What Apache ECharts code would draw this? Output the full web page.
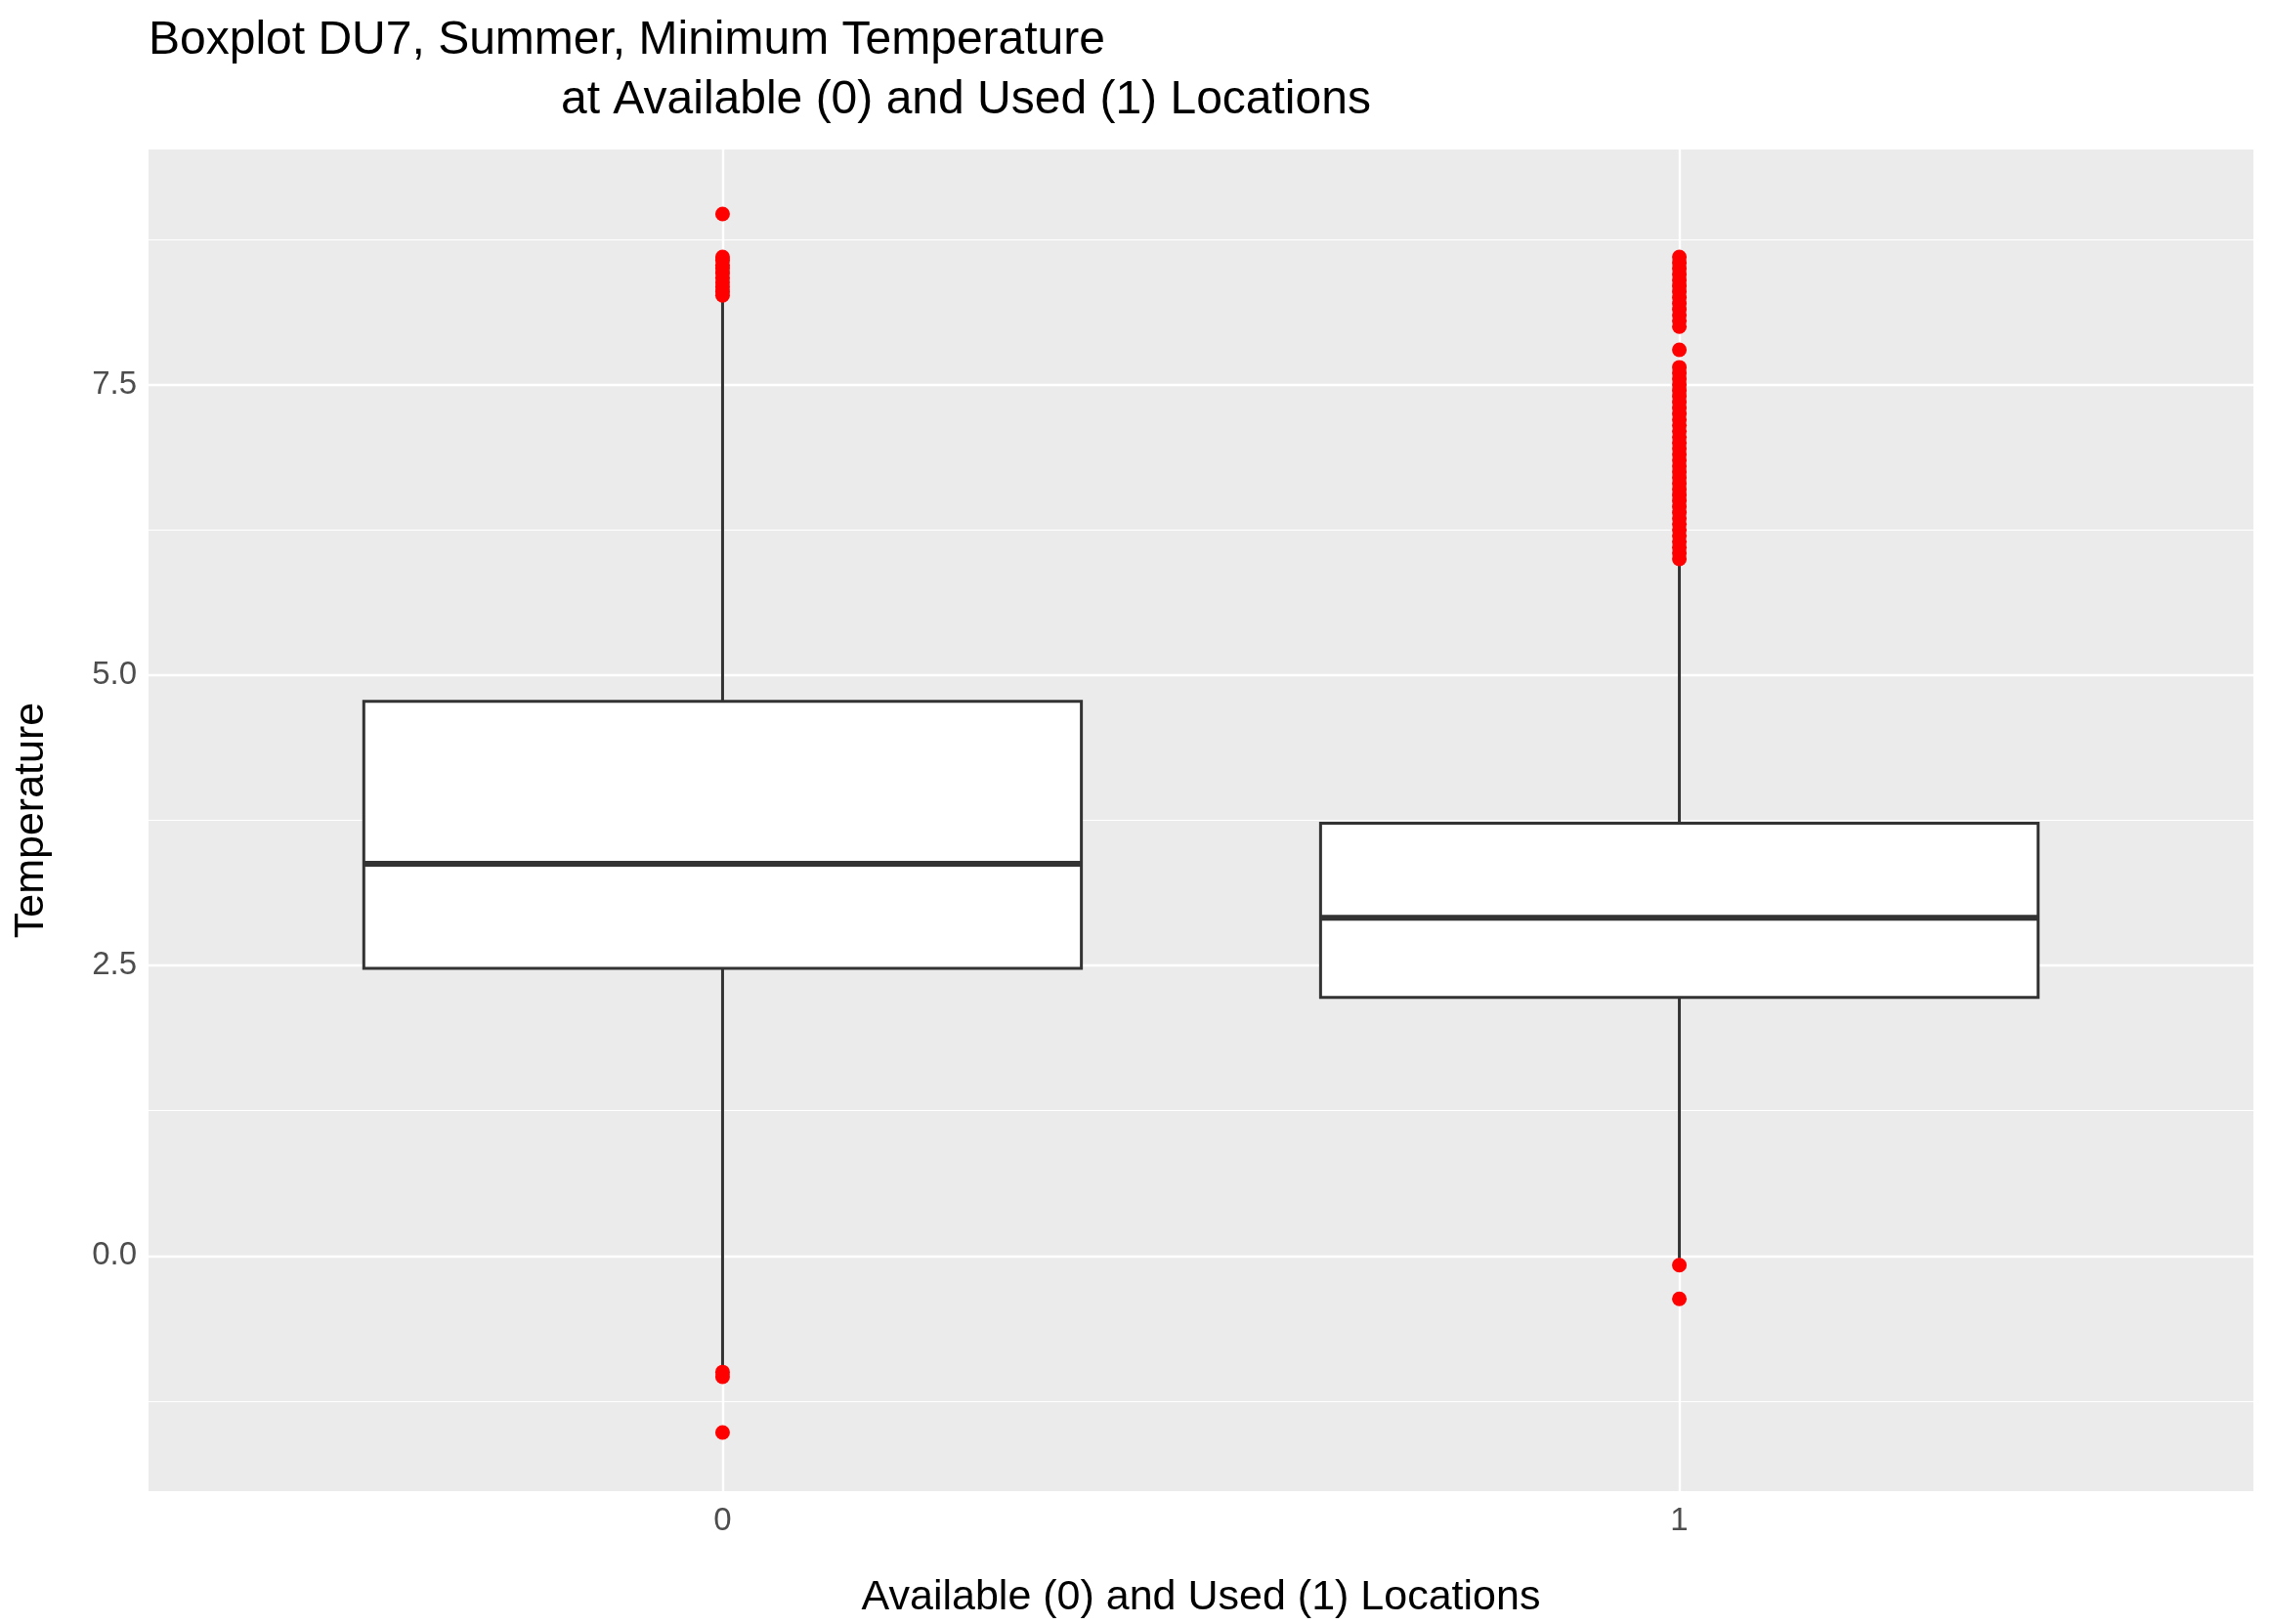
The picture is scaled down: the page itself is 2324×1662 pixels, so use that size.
<!DOCTYPE html>
<html><head><meta charset="utf-8">
<script src="https://cdn.jsdelivr.net/npm/echarts@6/dist/echarts.min.js"></script>
<style>html,body{margin:0;padding:0;background:#fff}#c{width:2324px;height:1662px}</style>
</head><body><div id="c"></div>
<script>
const categories = [0, 1];
// [x, lowerWhisker, Q1, median, Q3, upperWhisker]
const boxStats = [
  [0, -0.98, 2.475, 3.375, 4.775, 8.25],
  [1, -0.02, 2.225, 2.91, 3.725, 6.0]
];
const outliers0 = [8.97, 8.6, 8.57, 8.53, 8.5, 8.46, 8.42, 8.38, 8.34, 8.3, 8.27, -1.0, -1.04, -1.52];
const outliers1 = [6.0, 6.05, 6.1, 6.15, 6.2, 6.25, 6.3, 6.35, 6.4, 6.45, 6.5, 6.55, 6.6, 6.65, 6.7, 6.75, 6.8, 6.85, 6.9, 6.95, 7.0, 7.05, 7.1, 7.15, 7.2, 7.25, 7.3, 7.35, 7.4, 7.45, 7.5, 7.55, 7.6, 7.65, 7.8, 8.0, 8.05, 8.1, 8.15, 8.2, 8.25, 8.3, 8.35, 8.4, 8.45, 8.5, 8.55, 8.6, -0.08, -0.37];
const majorY = [0, 2.5, 5, 7.5];
const minorY = [-1.25, 1.25, 3.75, 6.25, 8.75];

const outlierData = outliers0.map(v => [0, v]).concat(outliers1.map(v => [1, v]));
const gridLines = minorY.map(v => ({yAxis: v, lineStyle: {width: 1.2}}))
  .concat(majorY.map(v => ({yAxis: v, lineStyle: {width: 2.4}})))
  .concat(categories.map(v => ({xAxis: v, lineStyle: {width: 2.4}})));

const chart = echarts.init(document.getElementById('c'));
chart.setOption({
  animation: false,
  grid: {left: 152, right: 18, top: 153, bottom: 132, show: true, backgroundColor: '#EBEBEB', borderWidth: 0},
  graphic: [
    {type: 'text', left: 152, top: 18, style: {text: 'Boxplot DU7, Summer, Minimum Temperature', font: '48px "Liberation Sans", Arial', fill: '#000'}},
    {type: 'text', left: 574, top: 79, style: {text: 'at Available (0) and Used (1) Locations', font: '48px "Liberation Sans", Arial', fill: '#000'}}
  ],
  xAxis: {
    type: 'value', min: -0.6, max: 1.6,
    name: 'Available (0) and Used (1) Locations', nameLocation: 'middle', nameGap: 88,
    nameTextStyle: {fontSize: 43, color: '#000', fontFamily: 'Liberation Sans'},
    axisLine: {show: false}, splitLine: {show: false},
    axisTick: {show: true, length: 7, lineStyle: {color: '#333', width: 2}, customValues: categories},
    axisLabel: {customValues: categories, fontSize: 33, color: '#4d4d4d', margin: 14, fontFamily: 'Liberation Sans'}
  },
  yAxis: {
    type: 'value', min: -2.025, max: 9.525,
    name: 'Temperature', nameLocation: 'middle', nameGap: 98, nameRotate: 90,
    nameTextStyle: {fontSize: 43, color: '#000', fontFamily: 'Liberation Sans'},
    axisLine: {show: false}, splitLine: {show: false},
    axisTick: {show: true, length: 7, lineStyle: {color: '#333', width: 2}, customValues: majorY},
    axisLabel: {customValues: majorY, fontSize: 33, color: '#4d4d4d', margin: 12, fontFamily: 'Liberation Sans',
      formatter: v => v.toFixed(1)}
  },
  series: [
    {
      type: 'scatter', data: [], silent: true,
      markLine: {silent: true, symbol: 'none', label: {show: false}, animation: false,
        lineStyle: {color: '#fff', type: 'solid'}, data: gridLines}
    },
    {
      type: 'custom', z: 5, data: boxStats,
      renderItem: (params, api) => {
        const x = api.value(0);
        const w = api.size([0.75, 0])[0];
        const lo = api.coord([x, api.value(1)]);
        const q1 = api.coord([x, api.value(2)]);
        const md = api.coord([x, api.value(3)]);
        const q3 = api.coord([x, api.value(4)]);
        const hi = api.coord([x, api.value(5)]);
        const ls = {stroke: '#333', lineWidth: 3};
        return {type: 'group', children: [
          {type: 'line', shape: {x1: lo[0], y1: lo[1], x2: q1[0], y2: q1[1]}, style: ls},
          {type: 'line', shape: {x1: hi[0], y1: hi[1], x2: q3[0], y2: q3[1]}, style: ls},
          {type: 'rect', shape: {x: q3[0] - w / 2, y: q3[1], width: w, height: q1[1] - q3[1]}, style: {fill: '#fff', stroke: '#333', lineWidth: 3}},
          {type: 'line', shape: {x1: md[0] - w / 2, y1: md[1], x2: md[0] + w / 2, y2: md[1]}, style: {stroke: '#333', lineWidth: 6}}
        ]};
      }
    },
    {
      type: 'scatter', z: 6, data: outlierData, symbolSize: 15,
      itemStyle: {color: '#FF0000', opacity: 1}
    }
  ]
});
</script></body></html>
